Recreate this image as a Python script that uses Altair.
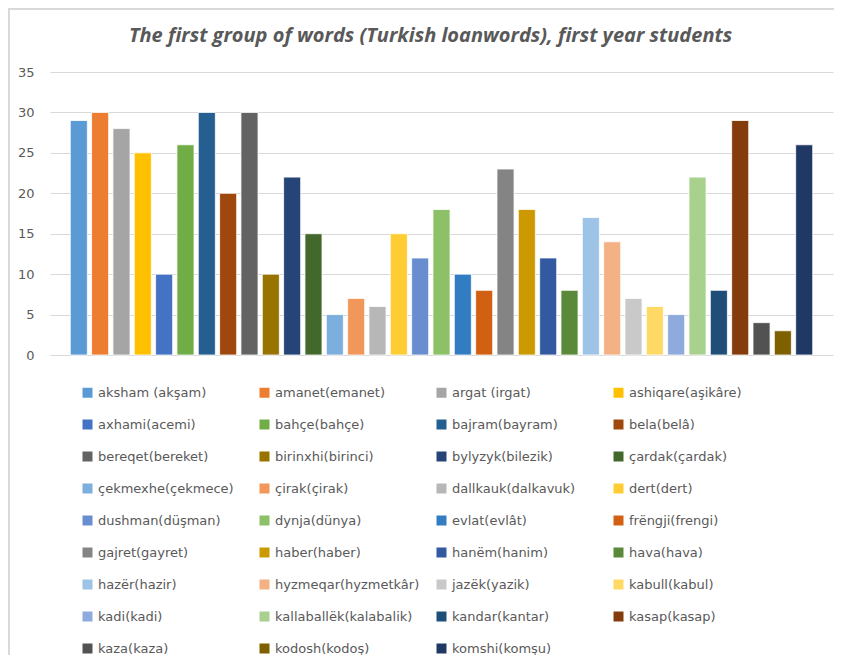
import altair as alt
import pandas as pd

words = [
    "aksham (akşam)", "amanet(emanet)", "argat (irgat)", "ashiqare(aşikâre)",
    "axhami(acemi)", "bahçe(bahçe)", "bajram(bayram)", "bela(belâ)",
    "bereqet(bereket)", "birinxhi(birinci)", "bylyzyk(bilezik)", "çardak(çardak)",
    "çekmexhe(çekmece)", "çirak(çirak)", "dallkauk(dalkavuk)", "dert(dert)",
    "dushman(düşman)", "dynja(dünya)", "evlat(evlât)", "frëngji(frengi)",
    "gajret(gayret)", "haber(haber)", "hanëm(hanim)", "hava(hava)",
    "hazër(hazir)", "hyzmeqar(hyzmetkâr)", "jazëk(yazik)", "kabull(kabul)",
    "kadi(kadi)", "kallaballëk(kalabalik)", "kandar(kantar)", "kasap(kasap)",
    "kaza(kaza)", "kodosh(kodoş)", "komshi(komşu)",
]
counts = [29, 30, 28, 25, 10, 26, 30, 20, 30, 10, 22, 15, 5, 7, 6, 15, 12, 18,
          10, 8, 23, 18, 12, 8, 17, 14, 7, 6, 5, 22, 8, 29, 4, 3, 26]
colors = [
    "#5B9BD5", "#ED7D31", "#A5A5A5", "#FFC000", "#4472C4", "#70AD47",
    "#255E91", "#9E480E", "#636363", "#997300", "#264478", "#43682B",
    "#7CAFDD", "#F1975A", "#B7B7B7", "#FFCD33", "#698ED0", "#8CC168",
    "#327DC2", "#D26012", "#848484", "#CC9A00", "#335AA1", "#5A8A39",
    "#9DC3E6", "#F4B183", "#C9C9C9", "#FFD966", "#8FAADC", "#A9D18E",
    "#1F4E79", "#843C0C", "#525252", "#7F6000", "#203864",
]
y_ticks = [0, 5, 10, 15, 20, 25, 30, 35]

df = pd.DataFrame({"word": words, "count": counts})

FONT = "DejaVu Sans"
W, H = 783, 283
PAD_L, PAD_T = 42, 64

bars = alt.Chart(df).mark_bar(stroke="white", strokeWidth=0.8).encode(
    x=alt.X("word:N", sort=words, axis=None,
            scale=alt.Scale(paddingInner=0.2, paddingOuter=0.95)),
    y=alt.Y("count:Q", scale=alt.Scale(domain=[0, 35], nice=False),
            axis=alt.Axis(values=y_ticks, title=None, domain=False, ticks=False,
                          labelFont=FONT, labelFontSize=13, labelColor="#595959",
                          labelPadding=16, gridColor="#D9D9D9", gridWidth=1)),
    color=alt.Color("word:N", sort=words,
                    scale=alt.Scale(domain=words, range=colors),
                    legend=alt.Legend(
                        title=None, orient="none", legendX=31, legendY=314,
                        columns=4, direction="horizontal", gridAlign="all",
                        columnPadding=15, rowPadding=18, symbolLimit=0,
                        symbolType="square", symbolSize=100,
                        symbolStrokeWidth=0, labelFont=FONT, labelFontSize=13,
                        labelColor="#595959", labelOffset=4, labelLimit=300,
                        padding=0)),
)

top_edge = alt.Chart(df).mark_rule(stroke="#D9D9D9", strokeWidth=1.5).encode(
    x=alt.value(-PAD_L), x2=alt.value(W + 1), y=alt.value(-PAD_T + 0.75)
)
left_edge = alt.Chart(df).mark_rule(stroke="#D9D9D9", strokeWidth=1.5).encode(
    x=alt.value(-PAD_L + 0.75), y=alt.value(-PAD_T), y2=alt.value(H + 310)
)

chart = alt.layer(top_edge, left_edge, bars).properties(
    width=W, height=H,
    title=alt.TitleParams(
        "The first group of words (Turkish loanwords), first year students",
        font="Open Sans", fontSize=20, fontWeight="bold", fontStyle="italic",
        color="#595959", anchor="middle", offset=-39, dx=-11),
    autosize=alt.AutoSizeParams(type="none"),
    padding={"left": PAD_L, "top": PAD_T, "right": 1, "bottom": 300},
).configure_view(stroke=None)

chart.save("out.html", embed_options={"renderer": "svg", "actions": False})
